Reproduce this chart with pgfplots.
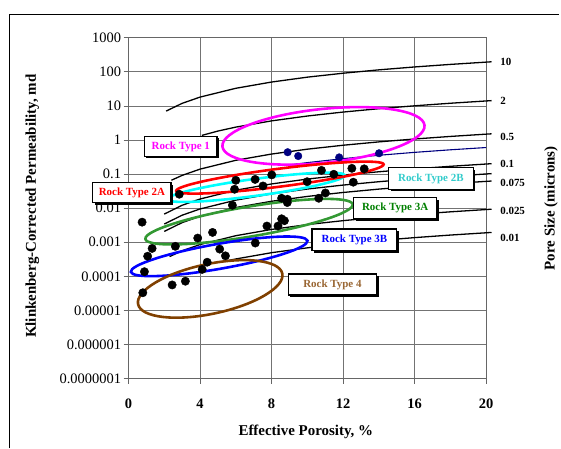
\documentclass[border=0pt]{standalone}
\usepackage{pgfplots}
\pgfplotsset{compat=1.18}
\usepackage{fontspec}
\setmainfont{Liberation Serif}

\definecolor{rtmag}{RGB}{255,0,255}
\definecolor{rtred}{RGB}{255,0,0}
\definecolor{rtcyan}{RGB}{0,255,255}
\definecolor{rtcyantext}{RGB}{51,204,204}
\definecolor{rtgreen}{RGB}{51,153,51}
\definecolor{rtgreentext}{RGB}{0,128,0}
\definecolor{rtblue}{RGB}{0,0,255}
\definecolor{rtbrown}{RGB}{128,64,0}
\definecolor{rtbrowntext}{RGB}{153,102,51}
\definecolor{navy}{RGB}{0,0,128}

\begin{document}
\begin{tikzpicture}
\begin{scope}[x=1pt,y=1pt]
  \useasboundingbox (0,0) rectangle (561,450);
\end{scope}

\begin{axis}[
  at={(129pt,70pt)}, anchor=south west,
  scale only axis, width=359pt, height=342pt,
  xmin=0, xmax=20, ymode=log, ymin=1e-7, ymax=1000,
  xtick={0,4,8,12,16,20},
  xticklabels={\textbf{0},\textbf{4},\textbf{8},\textbf{12},\textbf{16},\textbf{20}},
  ytick={1e-7,1e-6,1e-5,1e-4,1e-3,1e-2,1e-1,1,10,100,1000},
  yticklabels={0.0000001,0.000001,0.00001,0.0001,0.001,0.01,0.1,1,10,100,1000},
  yminorticks=false,
  grid=major,
  major grid style={line width=0.9pt, black!55},
  axis line style={line width=0.9pt, black!60},
  tick style={line width=0.9pt, black!60},
  tick align=outside, tick pos=left, major tick length=5pt,
  ticklabel style={font=\fontsize{14.5}{16}\selectfont},
  xticklabel style={yshift=-12pt},
  yticklabel style={xshift=1pt},
  clip=false,
]

% pore-throat radius lines (microns)
\addplot[black, line width=1.3pt] coordinates {
  (2.1,7.08) (3,11.97) (4,18.25) (6,33.1) (8,50.5) (10,70.2) (12,91.7) (14,115.1) (16,140.0) (18,166.3) (20.3,198.6)};
\addplot[black, line width=1.3pt] coordinates {
  (4.1,1.37) (5,1.84) (6,2.40) (8,3.66) (10,5.08) (12,6.64) (14,8.33) (16,10.14) (18,12.05) (20.3,14.39)};
\addplot[black, line width=1.3pt] coordinates {
  (2.4,0.0663) (3,0.0920) (4,0.1403) (6,0.2547) (8,0.389) (10,0.540) (12,0.705) (14,0.885) (16,1.076) (18,1.279) (20.3,1.527)};
\addplot[black, line width=1.3pt] coordinates {
  (2,0.00673) (3,0.01222) (4,0.01862) (6,0.0338) (8,0.0516) (10,0.0716) (12,0.0936) (14,0.1175) (16,0.1429) (18,0.1698) (20.3,0.2028)};
\addplot[black, line width=1.3pt] coordinates {
  (2,0.003436) (3,0.006237) (4,0.009506) (6,0.01726) (8,0.02636) (10,0.03656) (12,0.04775) (14,0.05998) (16,0.07295) (18,0.0867) (20.3,0.1035)};
\addplot[black, line width=1.3pt] coordinates {
  (2,0.002084) (3,0.003784) (4,0.005768) (6,0.01047) (8,0.016) (10,0.02218) (12,0.02897) (14,0.03639) (16,0.04426) (18,0.0526) (20.3,0.06281)};
\addplot[black, line width=1.3pt] coordinates {
  (2.3,0.000381) (3,0.000564) (4,0.000859) (6,0.00156) (8,0.002382) (10,0.003304) (12,0.004315) (14,0.00542) (16,0.006592) (18,0.007834) (20.3,0.009354)};
\addplot[black, line width=1.3pt] coordinates {
  (5.4,0.000278) (6,0.000324) (8,0.000495) (10,0.000687) (12,0.000898) (14,0.001127) (16,0.001371) (18,0.001629) (20.3,0.001945)};

% trend through the Rock Type 1 samples
\addplot[navy, line width=1.1pt] coordinates {
  (9,0.187) (10,0.218) (12,0.285) (14,0.358) (16,0.436) (18,0.518) (20,0.604)};

% rock type envelopes
\draw[rtmag, line width=2.6pt, rotate around={6:(rel axis cs:0.5451,0.7123)}]
  (rel axis cs:0.5451,0.7123) ellipse [x radius=102pt, y radius=27pt];
\draw[rtcyan, line width=2.6pt, rotate around={7.7:(rel axis cs:0.3565,0.5614)}]
  (rel axis cs:0.3565,0.5614) ellipse [x radius=90pt, y radius=8.5pt];
\draw[rtred, line width=2.6pt, rotate around={7.3:(rel axis cs:0.4234,0.5898)}]
  (rel axis cs:0.4234,0.5898) ellipse [x radius=105pt, y radius=9pt];
\draw[rtgreen, line width=2.6pt, rotate around={9.5:(rel axis cs:0.3370,0.4605)}]
  (rel axis cs:0.3370,0.4605) ellipse [x radius=105.5pt, y radius=15pt];
\draw[rtblue, line width=2.6pt, rotate around={10:(rel axis cs:0.2535,0.3588)}]
  (rel axis cs:0.2535,0.3588) ellipse [x radius=90pt, y radius=12.5pt];
\draw[rtbrown, line width=2.6pt, rotate around={12:(rel axis cs:0.2284,0.2632)}]
  (rel axis cs:0.2284,0.2632) ellipse [x radius=74pt, y radius=25pt];

% core samples
\addplot[only marks, mark=*, mark size=4.2pt, black] coordinates {
  (0.76,0.0039) (1.32,0.00066) (1.07,0.00039) (0.89,0.000137) (0.80,0.000033)
  (2.44,0.000056) (3.18,0.000072) (2.62,0.00076) (2.84,0.0257) (3.87,0.00133)
  (4.70,0.00195) (5.10,0.00063) (5.42,0.00040) (4.40,0.00026) (4.12,0.00016)
  (5.81,0.0122) (6.00,0.066) (5.93,0.036) (7.08,0.070) (7.52,0.045)
  (8.01,0.095) (7.09,0.00095) (7.74,0.0030) (8.36,0.0030) (8.56,0.0049)
  (8.72,0.0043) (8.56,0.0196) (8.89,0.0183) (8.88,0.0147) (9.99,0.060)
  (10.79,0.129) (11.48,0.099) (12.49,0.148) (13.18,0.143) (12.57,0.058)
  (11.01,0.028) (10.64,0.0196)};
\addplot[only marks, mark=*, mark size=3.8pt, navy] coordinates {
  (8.9,0.44) (9.49,0.34) (11.78,0.31) (14.01,0.41)};
\end{axis}

\begin{scope}[x=1pt,y=1pt]
  % outer frame
  \draw[black, line width=0.8pt] (9.5,0) -- (9.5,436) -- (561,436);

  % axis titles
  \node[rotate=90, font=\fontsize{15}{17}\selectfont\bfseries] at (32.5,243)
    {Klinkenberg-Corrected Permeability, md};
  \node[font=\fontsize{15}{17}\selectfont\bfseries] at (307,17) {Effective Porosity, \%};
  \node[rotate=90, font=\fontsize{15}{17}\selectfont\bfseries] at (553,241) {Pore Size (microns)};

  % pore size labels
  \begin{scope}[every node/.style={anchor=west, inner sep=0pt, font=\fontsize{11}{13}\selectfont\bfseries}]
    \node at (502,387.7) {10};
    \node at (502,349) {2};
    \node at (502,312.3) {0.5};
    \node at (502,285.7) {0.1};
    \node at (502,266) {0.075};
    \node at (502,238) {0.025};
    \node at (502,211.3) {0.01};
  \end{scope}

  % rock type labels
  \newcommand{\rtbox}[6]{%
    \fill[black] (#1+2,#2-2) rectangle (#3+2,#4-2);
    \draw[black, fill=white, line width=1.4pt] (#1,#2) rectangle (#3,#4);
    \node[font=\fontsize{11}{13}\selectfont\bfseries, text=#5] at ({(#1+#3)/2},{(#2+#4)/2}) {#6};}
  \rtbox{145}{293}{218}{313}{rtmag}{Rock Type 1}
  \rtbox{93}{246.7}{171.7}{266.7}{rtred}{Rock Type 2A}
  \rtbox{390}{260}{475}{281.7}{rtcyantext}{Rock Type 2B}
  \rtbox{355}{230}{438.3}{251.7}{rtgreentext}{Rock Type 3A}
  \rtbox{313.3}{198.3}{398.3}{220}{rtblue}{Rock Type 3B}
  \rtbox{289.3}{154}{378}{175}{rtbrowntext}{Rock Type 4}
\end{scope}
\end{tikzpicture}
\end{document}
